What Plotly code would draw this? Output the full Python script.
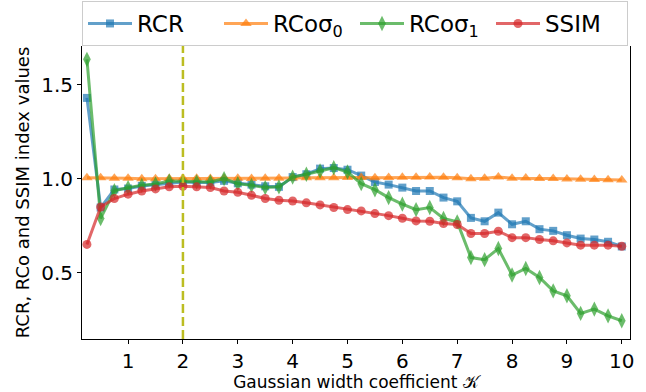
import plotly.graph_objects as go

# ---- data ----
kappa = [0.25, 0.5, 0.75, 1.0, 1.25, 1.5, 1.75, 2.0, 2.25, 2.5,
         2.75, 3.0, 3.25, 3.5, 3.75, 4.0, 4.25, 4.5, 4.75, 5.0,
         5.25, 5.5, 5.75, 6.0, 6.25, 6.5, 6.75, 7.0, 7.25, 7.5,
         7.75, 8.0, 8.25, 8.5, 8.75, 9.0, 9.25, 9.5, 9.75, 10.0]

rcr = [1.43, 0.847, 0.943, 0.948, 0.962, 0.969, 0.979, 0.983, 0.980, 0.980,
       0.989, 0.976, 0.969, 0.960, 0.957, 1.009, 1.024, 1.054, 1.057, 1.048,
       1.017, 0.983, 0.969, 0.953, 0.935, 0.935, 0.900, 0.880, 0.792, 0.774,
       0.820, 0.758, 0.774, 0.732, 0.723, 0.700, 0.682, 0.677, 0.665, 0.640]

rco_s0 = [1.006, 1.006, 1.003, 1.003, 1.000, 1.000, 1.002, 1.003, 1.003, 1.002,
          1.003, 1.003, 1.002, 1.003, 1.003, 1.004, 1.005, 1.006, 1.006, 1.007,
          1.007, 1.006, 1.007, 1.008, 1.008, 1.009, 1.008, 1.005, 1.000, 1.003,
          1.010, 1.003, 1.004, 1.001, 1.001, 0.999, 0.997, 0.996, 0.995, 0.993]

rco_s1 = [1.635, 0.789, 0.936, 0.953, 0.965, 0.972, 0.988, 0.985, 0.983, 0.983,
          1.001, 0.974, 0.965, 0.953, 0.957, 1.009, 1.024, 1.041, 1.059, 1.036,
          0.974, 0.942, 0.900, 0.865, 0.836, 0.847, 0.789, 0.771, 0.581, 0.570,
          0.629, 0.488, 0.523, 0.475, 0.404, 0.378, 0.284, 0.307, 0.271, 0.245]

ssim = [0.651, 0.850, 0.895, 0.918, 0.935, 0.946, 0.957, 0.960, 0.957, 0.953,
        0.935, 0.928, 0.912, 0.895, 0.886, 0.882, 0.872, 0.861, 0.847, 0.836,
        0.829, 0.815, 0.804, 0.790, 0.776, 0.774, 0.762, 0.757, 0.709, 0.709,
        0.721, 0.687, 0.687, 0.677, 0.670, 0.659, 0.647, 0.647, 0.647, 0.641]

K_OPT = 2.0
x_ticks = [1, 2, 3, 4, 5, 6, 7, 8, 9, 10]
y_ticks = [0.5, 1.0, 1.5]

series = [
    ("RCR", rcr, (31, 119, 180), "square", 8),
    ("RCoσ<sub>0</sub>", rco_s0, (255, 127, 14), "triangle-up", 10),
    ("RCoσ<sub>1</sub>", rco_s1, (44, 160, 44), "diamond-tall", 11),
    ("SSIM", ssim, (214, 39, 40), "circle", 9),
]

fig = go.Figure()
for name, vals, (r, g, b), sym, sz in series:
    col = f"rgba({r},{g},{b},0.7)"
    fig.add_trace(go.Scatter(
        x=kappa, y=vals, name=name, mode="lines+markers",
        line=dict(color=col, width=3),
        marker=dict(symbol=sym, size=sz, color=col, line=dict(width=0)),
    ))

fig.add_shape(type="line", xref="x", yref="paper", x0=K_OPT, x1=K_OPT, y0=0, y1=1,
              line=dict(color="#bcbd22", width=2.5, dash="9px,4px"), layer="above")

font = "DejaVu Sans"
fig.update_layout(
    width=646, height=392,
    margin=dict(l=82, r=16, t=46, b=53, autoexpand=False),
    paper_bgcolor="white", plot_bgcolor="white",
    font=dict(family=font, color="black"),
    showlegend=True,
    legend=dict(
        orientation="h", x=0, xanchor="left", y=1, yanchor="bottom",
        font=dict(size=23, family=font, color="black"),
        bgcolor="white", bordercolor="#cccccc", borderwidth=1,
        entrywidthmode="pixels", entrywidth=77, itemwidth=44,
        tracegroupgap=0,
    ),
    xaxis=dict(
        range=[0.16, 10.15], tickvals=x_ticks, ticktext=[str(t) for t in x_ticks],
        showgrid=False, zeroline=False, showline=True, linecolor="black", linewidth=1,
        ticks="outside", ticklen=4, tickcolor="black", tickfont=dict(size=20),
        title=dict(text="Gaussian width coefficient 𝒦", font=dict(size=17), standoff=6),
        mirror=False, automargin=False,
    ),
    yaxis=dict(
        range=[0.148, 1.706], tickvals=y_ticks, tickformat=".1f",
        showgrid=False, zeroline=False, showline=True, linecolor="black", linewidth=1,
        ticks="outside", ticklen=4, tickcolor="black", tickfont=dict(size=20),
        title=dict(text="RCR, RCo and SSIM index values", font=dict(size=18), standoff=6),
        mirror=True, automargin=False,
    ),
)

fig.write_html("out.html")
